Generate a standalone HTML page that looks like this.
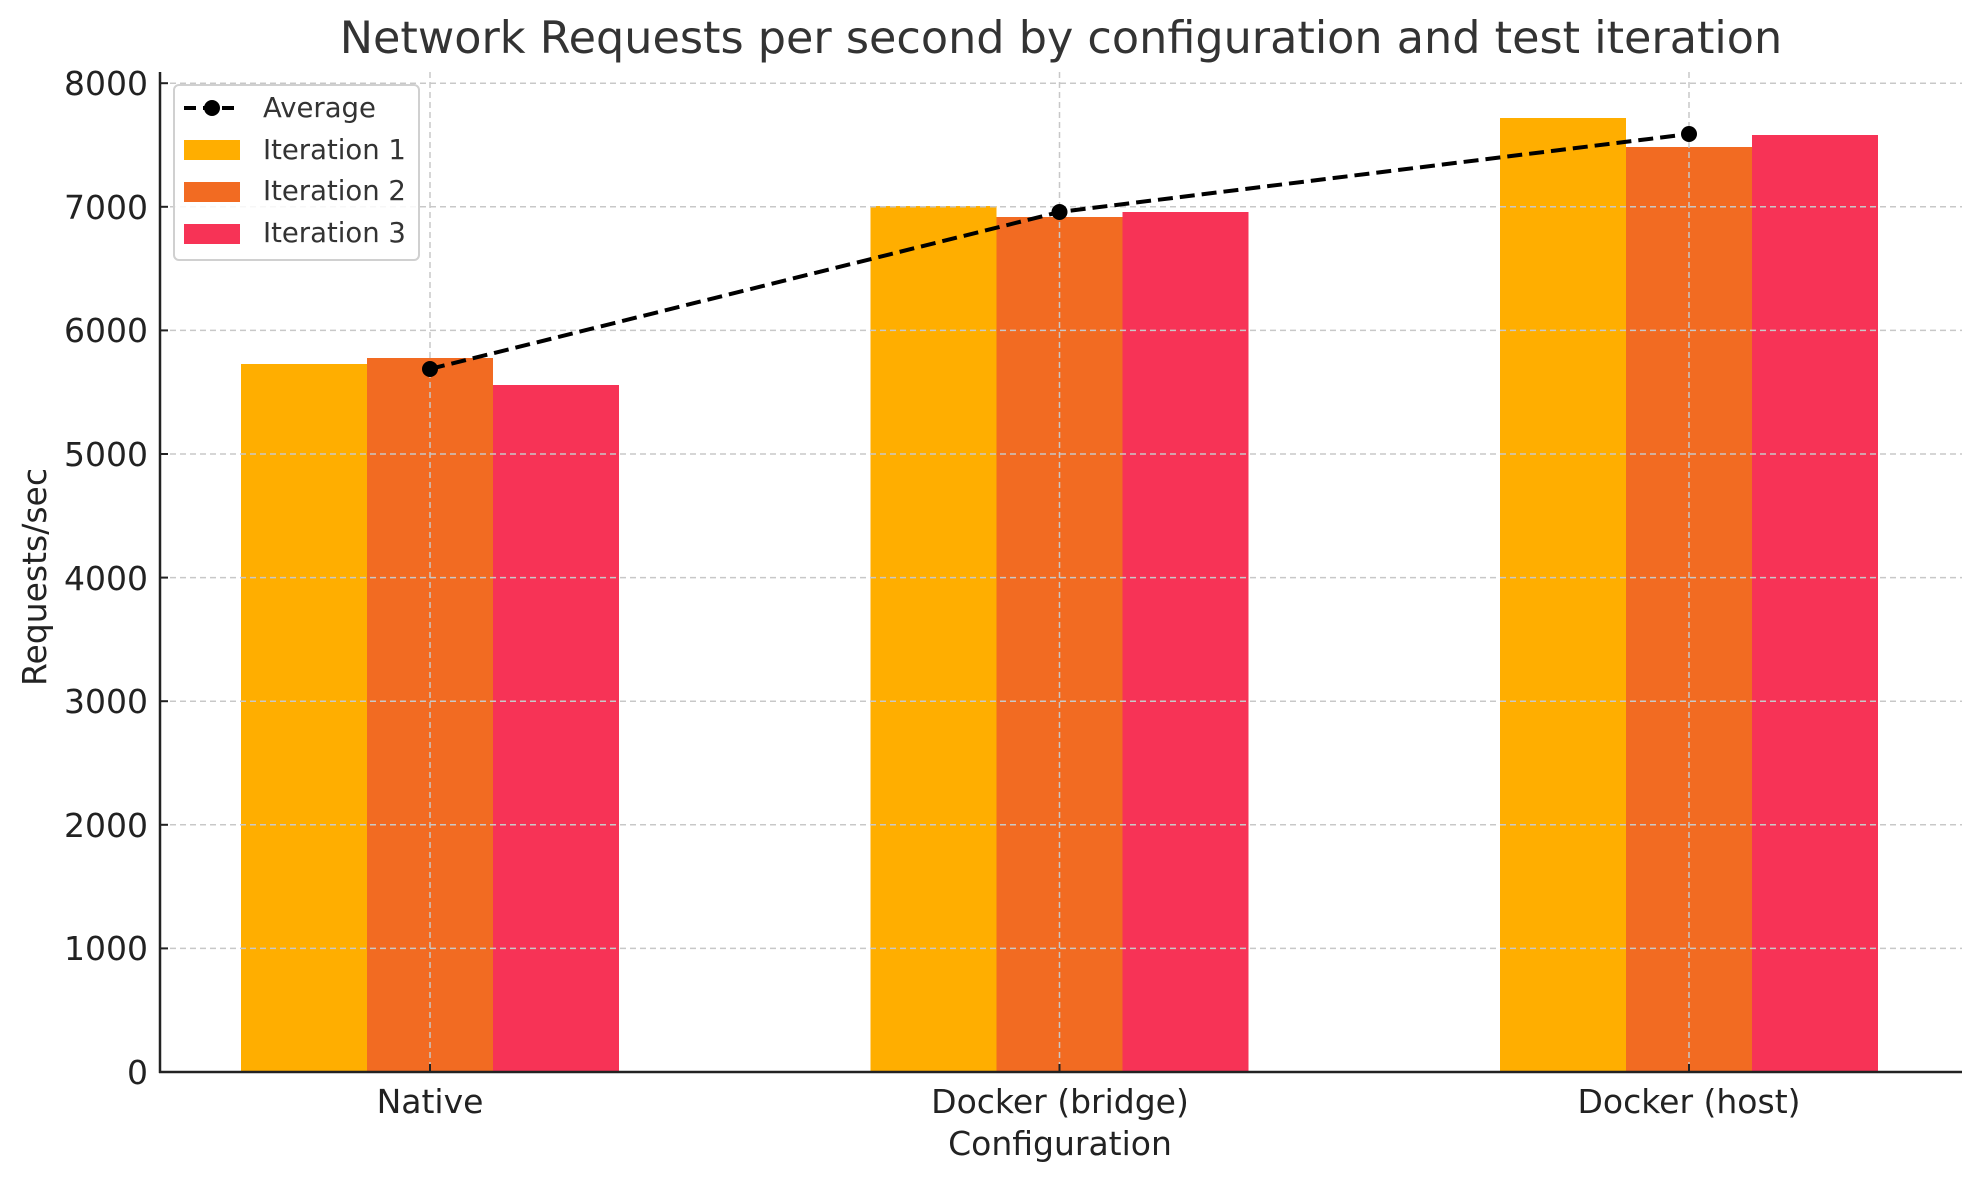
<!DOCTYPE html>
<html><head><meta charset="utf-8"><style>html,body{margin:0;padding:0;background:#fff}svg{display:block}</style></head>
<body>
<svg width="1980" height="1180" viewBox="0 0 1980 1180" xmlns="http://www.w3.org/2000/svg" font-family="DejaVu Sans, Liberation Sans, sans-serif">
<rect width="1980" height="1180" fill="#fff"/>
<text x="1061" y="53" font-size="44.5" fill="#333" text-anchor="middle">Network Requests per second by configuration and test iteration</text>
<g>
<rect x="241" y="364" width="126" height="708" fill="#FFAE00"/>
<rect x="367" y="358" width="126" height="714" fill="#F26B22"/>
<rect x="493" y="385" width="126" height="687" fill="#F73356"/>
<rect x="870.5" y="206" width="126" height="866" fill="#FFAE00"/>
<rect x="996.5" y="217" width="126" height="855" fill="#F26B22"/>
<rect x="1122.5" y="212" width="126" height="860" fill="#F73356"/>
<rect x="1500" y="118" width="126" height="954" fill="#FFAE00"/>
<rect x="1626" y="147" width="126" height="925" fill="#F26B22"/>
<rect x="1752" y="135" width="126" height="937" fill="#F73356"/>
</g>
<g stroke="#c8c8c8" stroke-width="1.5" stroke-dasharray="6,4">
<line x1="160" x2="1962" y1="948.4" y2="948.4"/>
<line x1="160" x2="1962" y1="824.8" y2="824.8"/>
<line x1="160" x2="1962" y1="701.2" y2="701.2"/>
<line x1="160" x2="1962" y1="577.6" y2="577.6"/>
<line x1="160" x2="1962" y1="454" y2="454"/>
<line x1="160" x2="1962" y1="330.4" y2="330.4"/>
<line x1="160" x2="1962" y1="206.8" y2="206.8"/>
<line x1="160" x2="1962" y1="83.2" y2="83.2"/>
<line x1="430" x2="430" y1="72" y2="1072"/>
<line x1="1059.5" x2="1059.5" y1="72" y2="1072"/>
<line x1="1689" x2="1689" y1="72" y2="1072"/>
</g>
<line x1="160" y1="72" x2="160" y2="1073" stroke="#222" stroke-width="2.5"/>
<line x1="159" y1="1072" x2="1962" y2="1072" stroke="#222" stroke-width="2.5"/>
<g stroke="#222" stroke-width="2">
<line x1="160" x2="168" y1="1072" y2="1072"/><line x1="160" x2="168" y1="948.4" y2="948.4"/>
<line x1="160" x2="168" y1="824.8" y2="824.8"/><line x1="160" x2="168" y1="701.2" y2="701.2"/>
<line x1="160" x2="168" y1="577.6" y2="577.6"/><line x1="160" x2="168" y1="454" y2="454"/>
<line x1="160" x2="168" y1="330.4" y2="330.4"/><line x1="160" x2="168" y1="206.8" y2="206.8"/>
<line x1="160" x2="168" y1="83.2" y2="83.2"/>
<line x1="430" x2="430" y1="1064" y2="1072"/><line x1="1059.5" x2="1059.5" y1="1064" y2="1072"/><line x1="1689" x2="1689" y1="1064" y2="1072"/>
</g>
<g font-size="33" fill="#222" text-anchor="end">
<text x="148" y="1084">0</text>
<text x="148" y="960">1000</text>
<text x="148" y="837">2000</text>
<text x="148" y="713">3000</text>
<text x="148" y="590">4000</text>
<text x="148" y="466">5000</text>
<text x="148" y="342">6000</text>
<text x="148" y="219">7000</text>
<text x="148" y="95">8000</text>
</g>
<g font-size="33" fill="#222" text-anchor="middle">
<text x="430" y="1113">Native</text>
<text x="1060" y="1113">Docker (bridge)</text>
<text x="1689" y="1113">Docker (host)</text>
<text x="1060" y="1155">Configuration</text>
<text transform="translate(46,577) rotate(-90)">Requests/sec</text>
</g>
<polyline points="430,369 1059.5,212 1689,134" fill="none" stroke="#000" stroke-width="4" stroke-dasharray="15,7"/>
<circle cx="430" cy="369" r="8" fill="#000"/>
<circle cx="1059.5" cy="212" r="8" fill="#000"/>
<circle cx="1689" cy="134" r="8" fill="#000"/>
<rect x="174" y="85" width="245" height="175" rx="5" fill="#fff" fill-opacity="0.85" stroke="#d0d0d0" stroke-width="2"/>
<line x1="184" y1="108" x2="240" y2="108" stroke="#000" stroke-width="4" stroke-dasharray="12,7"/>
<circle cx="212" cy="108" r="8" fill="#000"/>
<rect x="184" y="140" width="56" height="20" fill="#FFAE00"/>
<rect x="184" y="182" width="56" height="20" fill="#F26B22"/>
<rect x="184" y="224" width="56" height="20" fill="#F73356"/>
<g font-size="27.5" fill="#333">
<text x="263" y="117">Average</text>
<text x="263" y="159">Iteration 1</text>
<text x="263" y="200">Iteration 2</text>
<text x="263" y="242">Iteration 3</text>
</g>
</svg>
</body></html>
